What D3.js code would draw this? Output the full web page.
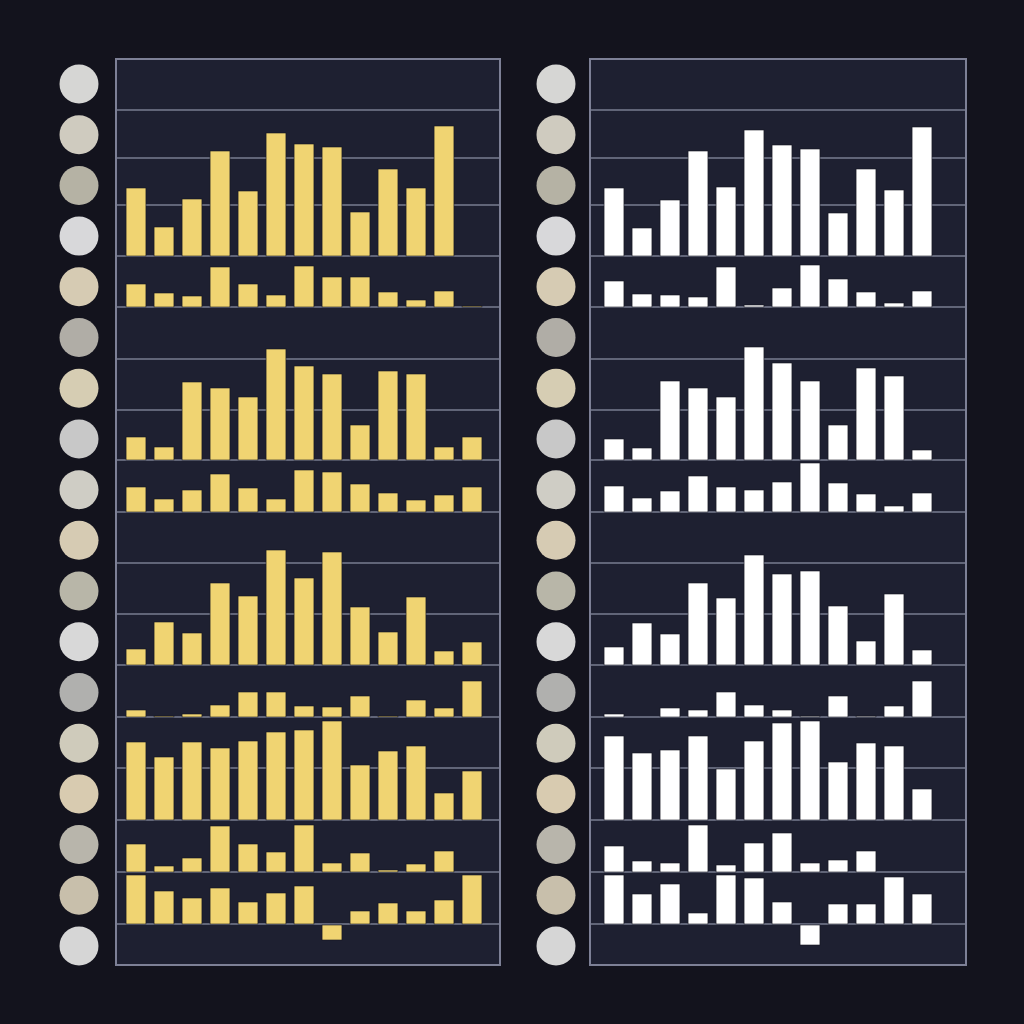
<!DOCTYPE html>
<html>
<head>
<meta charset="utf-8">
<script src="https://cdn.jsdelivr.net/npm/d3@7"></script>
<style>
  body { margin: 0; background: #13131d; }
  svg { display: block; }
</style>
</head>
<body>
<svg id="chart" width="1024" height="1024"></svg>
<script>
// Row boundaries, in chart units from the top of the panels
var gridLines = [0, 51, 99, 146, 197, 248, 300, 351, 401, 453, 504, 555, 606, 658, 709, 761, 813, 865, 906];
// Each bar group sits on one of the grid lines (index into gridLines)
var groupBaselines = [4, 5, 8, 9, 12, 13, 15, 16, 17];
var columns = d3.range(13);

var leftSeries = [
  [68, 29, 57, 105, 65, 123, 112, 109, 44, 87, 68, 130, 0],
  [23, 14, 11, 40, 23, 12, 41, 30, 30, 15, 7, 16, 1],
  [23, 13, 78, 72, 63, 111, 94, 86, 35, 89, 86, 13, 23],
  [25, 13, 22, 38, 24, 13, 42, 40, 28, 19, 12, 17, 25],
  [16, 43, 32, 82, 69, 115, 87, 113, 58, 33, 68, 14, 23],
  [7, 1, 3, 12, 25, 25, 11, 10, 21, 1, 17, 9, 36],
  [78, 63, 78, 72, 79, 88, 90, 99, 55, 69, 74, 27, 49],
  [28, 6, 14, 46, 28, 20, 47, 9, 19, 2, 8, 21, 0],
  [49, 33, 26, 36, 22, 31, 38, -15, 13, 21, 13, 24, 49]
];
var rightSeries = [
  [68, 28, 56, 105, 69, 126, 111, 107, 43, 87, 66, 129],
  [26, 13, 12, 10, 40, 2, 19, 42, 28, 15, 4, 16],
  [21, 12, 79, 72, 63, 113, 97, 79, 35, 92, 84, 10],
  [26, 14, 21, 36, 25, 22, 30, 49, 29, 18, 6, 19],
  [18, 42, 31, 82, 67, 110, 91, 94, 59, 24, 71, 15],
  [3, 0, 9, 7, 25, 12, 7, 1, 21, 1, 11, 36],
  [84, 67, 70, 84, 51, 79, 97, 99, 58, 77, 74, 31],
  [26, 11, 9, 47, 7, 29, 39, 9, 12, 21, 0, 0],
  [49, 30, 40, 11, 49, 46, 22, -20, 20, 20, 47, 30]
];
var dotColors = ["#d6d6d4", "#cfcbbf", "#b5b2a4", "#d8d8da", "#d6cbb3", "#b0ada6",
                 "#d6cdb3", "#c8c8c8", "#cfcdc5", "#d6cbb3", "#b8b6a8", "#d8d8d8",
                 "#b0b0ae", "#cfcbbb", "#d8cbb0", "#b8b5ab", "#c8bfab", "#d6d6d6"];

var svg = d3.select("#chart");

// vertical scale: chart units -> pixels
var y = d3.scaleLinear().domain([0, 906]).range([59, 965]);

var panels = [
  { x0: 116, x1: 500, inset: 6,  dotX: 79,  fill: "#f0d472", series: leftSeries },
  { x0: 590, x1: 966, inset: 10, dotX: 556, fill: "#ffffff", series: rightSeries }
];

var dotY = d3.scalePoint().domain(d3.range(18)).range([84, 946]);

panels.forEach(function(p) {
  var x = d3.scaleBand().domain(columns)
            .range([p.x0 + p.inset, p.x0 + p.inset + 364])
            .paddingInner(0.29).paddingOuter(0.145);

  var g = svg.append("g");

  g.append("rect")
   .attr("x", p.x0).attr("y", y(0))
   .attr("width", p.x1 - p.x0).attr("height", y(906) - y(0))
   .attr("fill", "#1e2031");

  // grid lines
  g.selectAll("line.grid")
   .data(gridLines.slice(1, -1))
   .enter().append("line")
   .attr("class", "grid")
   .attr("x1", p.x0).attr("x2", p.x1)
   .attr("y1", function(d) { return y(d); })
   .attr("y2", function(d) { return y(d); })
   .attr("stroke", "#797c90").attr("stroke-width", 1.6);

  // bars
  p.series.forEach(function(vals, gi) {
    var base = gridLines[groupBaselines[gi]];
    g.selectAll(null)
     .data(vals.map(function(v, i) { return { i: i, v: v }; }).filter(function(d) { return d.v !== 0; }))
     .enter().append("rect")
     .attr("x", function(d) { return x(d.i); })
     .attr("width", x.bandwidth())
     .attr("y", function(d) { return d.v > 0 ? y(base - d.v) : y(base) + 1; })
     .attr("height", function(d) { return Math.max(1, Math.abs(y(base) - y(base - d.v))); })
     .attr("fill", p.fill)
     .attr("stroke", "#15151f").attr("stroke-width", 0.6);
  });

  // panel border
  g.append("rect")
   .attr("x", p.x0).attr("y", y(0))
   .attr("width", p.x1 - p.x0).attr("height", y(906) - y(0))
   .attr("fill", "none").attr("stroke", "#7d8096").attr("stroke-width", 2);

  // dots
  svg.append("g").selectAll("circle")
     .data(dotColors)
     .enter().append("circle")
     .attr("cx", p.dotX)
     .attr("cy", function(d, i) { return dotY(i); })
     .attr("r", 19.5)
     .attr("fill", function(d) { return d; });
});
</script>
</body>
</html>
